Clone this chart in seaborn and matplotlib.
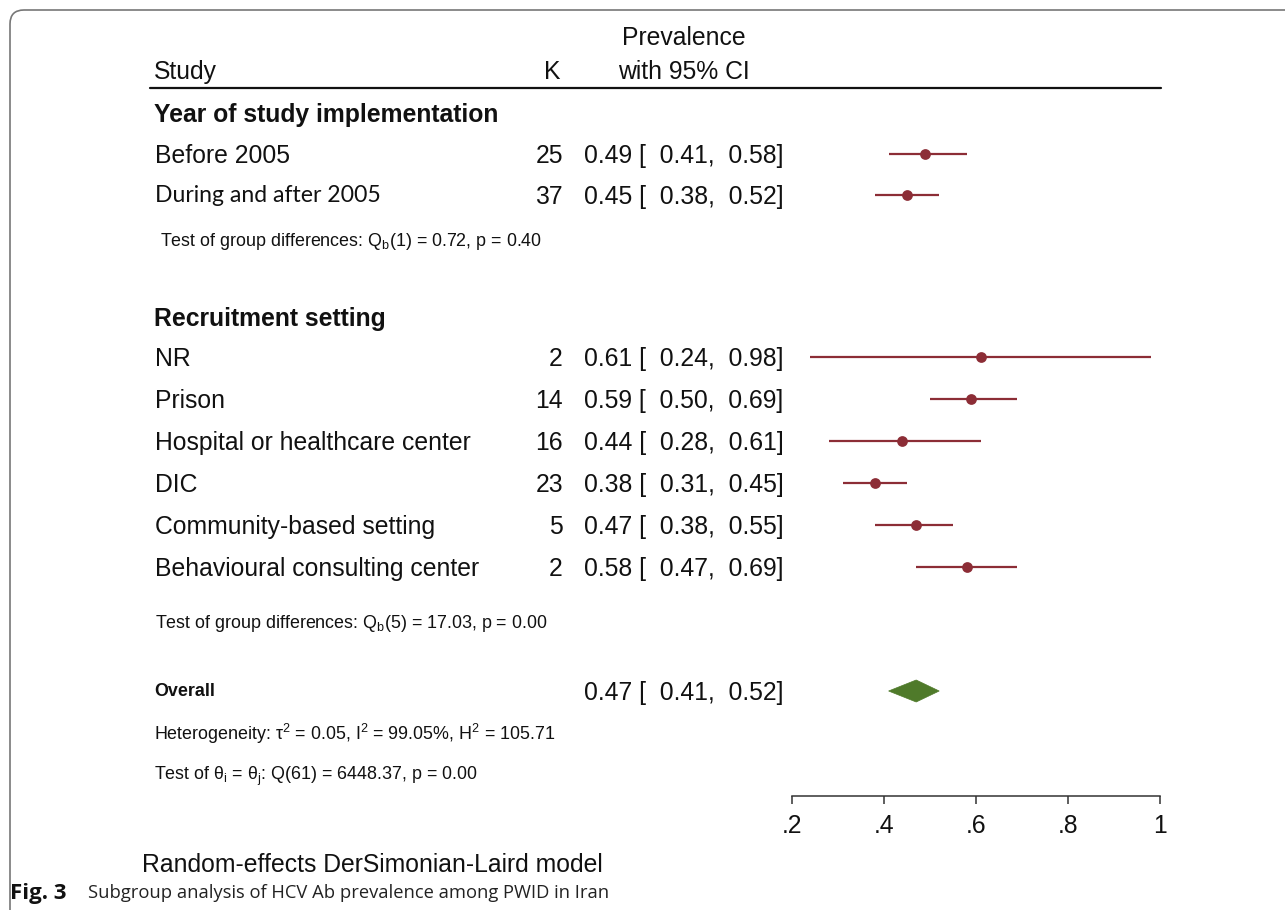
import matplotlib
matplotlib.use("Agg")
import matplotlib.pyplot as plt
import seaborn as sns
import pandas as pd
from matplotlib.patches import FancyBboxPatch, Polygon
from matplotlib.lines import Line2D
from matplotlib.transforms import IdentityTransform

# ---------------- data ----------------
studies = ["Before 2005", "During and after 2005", "NR", "Prison",
           "Hospital or healthcare center", "DIC", "Community-based setting",
           "Behavioural consulting center"]
k_counts = [25, 37, 2, 14, 16, 23, 5, 2]
estimates = [0.49, 0.45, 0.61, 0.59, 0.44, 0.38, 0.47, 0.58]
ci_low = [0.41, 0.38, 0.24, 0.50, 0.28, 0.31, 0.38, 0.47]
ci_high = [0.58, 0.52, 0.98, 0.69, 0.61, 0.45, 0.55, 0.69]
groups = ["Year of study implementation", "Recruitment setting"]
group_tests = ["Test of group differences: Q$_\\mathrm{b}$(1) = 0.72, p = 0.40",
               "Test of group differences: Q$_\\mathrm{b}$(5) = 17.03, p = 0.00"]
overall_est, overall_lo, overall_hi = 0.47, 0.41, 0.52
x_ticks = [0.2, 0.4, 0.6, 0.8, 1.0]
x_tick_labels = [".2", ".4", ".6", ".8", "1"]

# layout (pixel rows of the reference)
study_rows = [154, 195, 357, 399, 441, 483, 525, 567]
group_rows = [113, 317]
test_rows = [240, 622]
test_x = [160, 155]
overall_row = 691

W, H = 1285, 910
sns.set_theme(style="white")
plt.rcParams['font.family'] = ['Liberation Sans', 'DejaVu Sans']
plt.rcParams['mathtext.fontset'] = 'custom'
plt.rcParams['mathtext.rm'] = 'Liberation Sans'
plt.rcParams['mathtext.it'] = 'Liberation Sans'
plt.rcParams['mathtext.bf'] = 'Liberation Sans:bold'

BIG = 17.8
SMALL = 12.9
TXT = "#111111"

fig = plt.figure(figsize=(W / 100, H / 100), dpi=100)
fig.patch.set_facecolor("white")

def fx(x):
    return x / W

def fy(y):
    return 1 - y / H

ax = fig.add_axes([fx(792), fy(796), (1160 - 792) / W, 796 / H])
ax.set_facecolor("none")
ax.set_xlim(0.2, 1.0)
ax.set_ylim(796, 0)
for s in ["left", "right", "top"]:
    ax.spines[s].set_visible(False)
ax.spines["bottom"].set_color("#333333")
ax.spines["bottom"].set_linewidth(1.1)
ax.set_xticks(x_ticks)
ax.set_xticklabels(x_tick_labels)
ax.tick_params(axis="x", direction="out", length=6, width=1.1, color="#333333",
               labelsize=BIG, pad=7, bottom=True, labelcolor=TXT)
ax.set_yticks([])

red = "#8c2d36"
green = "#4f7a2a"
df = pd.DataFrame({"study": studies, "est": estimates, "lo": ci_low,
                   "hi": ci_high, "row": study_rows})
ax.hlines(df["row"], df["lo"], df["hi"], color=red, linewidth=1.6, zorder=2)
sns.scatterplot(data=df, x="est", y="row", ax=ax, color=red, s=60,
                edgecolor=red, linewidth=0, zorder=3, legend=False)
ax.set_xlabel("")
ax.set_ylabel("")

# overall diamond
dh = 11
ax.add_patch(Polygon([(overall_lo, overall_row), (overall_est, overall_row - dh),
                      (overall_hi, overall_row), (overall_est, overall_row + dh)],
                     closed=True, facecolor=green, edgecolor=green, linewidth=0.5,
                     zorder=3))

# border
fig.patches.append(FancyBboxPatch((10, -40), 1400, H - 10 + 40,
                                  boxstyle="round,pad=0,rounding_size=14",
                                  transform=IdentityTransform(), fill=False,
                                  edgecolor="#777777", linewidth=1.2))
# header
fig.text(fx(154), fy(72), "Study", fontsize=BIG, va="center", ha="left", color=TXT)
fig.text(fx(552), fy(72), "K", fontsize=BIG, va="center", ha="center", color=TXT)
fig.text(fx(684), fy(38), "Prevalence", fontsize=BIG, va="center", ha="center", color=TXT)
fig.text(fx(684), fy(72), "with 95% CI", fontsize=BIG, va="center", ha="center", color=TXT)
fig.lines.append(Line2D([fx(150), fx(1161)], [fy(88), fy(88)], transform=fig.transFigure,
                        color=TXT, linewidth=1.6))

for g, r in zip(groups, group_rows):
    fig.text(fx(154), fy(r + 2), g, fontsize=BIG, fontweight="bold", va="center",
             ha="left", color=TXT)
for t, r, x in zip(group_tests, test_rows, test_x):
    fig.text(fx(x), fy(r + 1), t, fontsize=SMALL, va="center", ha="left", color=TXT)

for s, k, e, lo, hi, r in zip(studies, k_counts, estimates, ci_low, ci_high, study_rows):
    if s.startswith("During"):
        fig.text(fx(155), fy(r + 1), s, fontsize=16.6, va="center", ha="left",
                 color=TXT, family=['Lato', 'DejaVu Sans'])
    else:
        fig.text(fx(155), fy(r + 2), s, fontsize=BIG, va="center", ha="left", color=TXT)
    fig.text(fx(563), fy(r + 2), str(k), fontsize=BIG, va="center", ha="right", color=TXT)
    fig.text(fx(584), fy(r + 2), f"{e:.2f} [  {lo:.2f},  {hi:.2f}]", fontsize=BIG,
             va="center", ha="left", color=TXT)

fig.text(fx(154), fy(overall_row + 1), "Overall", fontsize=SMALL, fontweight="bold",
         va="center", ha="left", color=TXT)
fig.text(fx(584), fy(overall_row + 2),
         f"{overall_est:.2f} [  {overall_lo:.2f},  {overall_hi:.2f}]", fontsize=BIG,
         va="center", ha="left", color=TXT)
fig.text(fx(154), fy(734),
         "Heterogeneity: τ$^2$ = 0.05, I$^2$ = 99.05%, H$^2$ = 105.71",
         fontsize=SMALL, va="center", ha="left", color=TXT)
fig.text(fx(154), fy(776),
         "Test of θ$_\\mathrm{i}$ = θ$_\\mathrm{j}$: Q(61) = 6448.37, p = 0.00",
         fontsize=SMALL, va="center", ha="left", color=TXT)

fig.text(fx(142), fy(865), "Random-effects DerSimonian-Laird model", fontsize=BIG,
         va="center", ha="left", color=TXT)
fig.text(fx(10), fy(893), "Fig. 3", fontsize=16, fontweight="bold", va="center",
         ha="left", color=TXT, family=["Open Sans", "DejaVu Sans"])
fig.text(fx(88), fy(893), "Subgroup analysis of HCV Ab prevalence among PWID in Iran",
         fontsize=13.2, va="center", ha="left", color="#222222",
         family=["Open Sans", "DejaVu Sans"])

fig.savefig("out.png", dpi=100)
